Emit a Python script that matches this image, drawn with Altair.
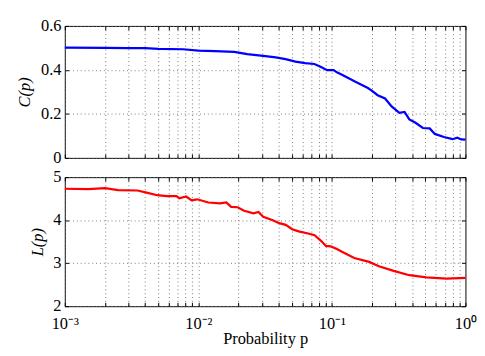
import altair as alt
import pandas as pd

# ---- data ----
p_c = [0.001, 0.002, 0.003, 0.004, 0.005, 0.0077, 0.01, 0.0133, 0.0186, 0.0232,
       0.0306, 0.038, 0.045, 0.0533, 0.063, 0.074, 0.0829, 0.092, 0.103, 0.109,
       0.12, 0.15, 0.186, 0.2, 0.22, 0.25, 0.28, 0.32,
       0.35, 0.38, 0.42, 0.48, 0.54, 0.59, 0.69, 0.80, 0.87, 0.93, 1.0]
c_val = [0.501, 0.500, 0.499, 0.499, 0.496, 0.494, 0.488, 0.486, 0.482, 0.472,
         0.464, 0.457, 0.449, 0.438, 0.431, 0.427, 0.413, 0.399, 0.399, 0.389,
         0.377, 0.346, 0.318, 0.305, 0.285, 0.270, 0.234, 0.205,
         0.209, 0.175, 0.161, 0.136, 0.134, 0.109, 0.095, 0.085, 0.092, 0.084, 0.083]

p_l = [0.001, 0.0015, 0.002, 0.0025, 0.0035, 0.00417, 0.00492, 0.0058, 0.00685, 0.0072,
       0.0081, 0.0089, 0.0098, 0.0119, 0.0145, 0.0162, 0.0176, 0.0197, 0.022, 0.0259,
       0.0282, 0.0306, 0.0361, 0.0403, 0.0451, 0.0504, 0.0564, 0.0664, 0.0742, 0.0829,
       0.0902, 0.0981, 0.109, 0.118, 0.147, 0.19, 0.225, 0.29, 0.38, 0.51, 0.72, 1.0]
l_val = [4.73, 4.72, 4.747, 4.70, 4.69, 4.635, 4.58, 4.56, 4.56, 4.51,
         4.55, 4.46, 4.485, 4.41, 4.39, 4.41, 4.31, 4.30, 4.22, 4.16,
         4.19, 4.08, 4.00, 3.93, 3.89, 3.79, 3.74, 3.69, 3.65, 3.52,
         3.40, 3.39, 3.33, 3.27, 3.12, 3.03, 2.93, 2.82, 2.72, 2.67, 2.64, 2.66]

x_ticks = [0.001, 0.002, 0.003, 0.004, 0.005, 0.006, 0.007, 0.008, 0.009,
           0.01, 0.02, 0.03, 0.04, 0.05, 0.06, 0.07, 0.08, 0.09,
           0.1, 0.2, 0.3, 0.4, 0.5, 0.6, 0.7, 0.8, 0.9, 1]
c_ticks = [0, 0.2, 0.4, 0.6]
l_ticks = [2, 3, 4, 5]

df_c = pd.DataFrame({"p": p_c, "v": c_val})
df_l = pd.DataFrame({"p": p_l, "v": l_val})

FONT = "Liberation Serif"
xscale = alt.Scale(type="log", domain=[0.001, 1], nice=False)
label_expr = ("datum.value == 0.001 ? '10⁻³' : datum.value == 0.01 ? '10⁻²' : "
              "datum.value == 0.1 ? '10⁻¹' : datum.value == 1 ? '10⁰' : ''")

common = dict(domain=False, tickColor="black", tickSize=4, offset=-4,
              labelFont=FONT, labelFontSize=17, labelColor="black",
              titleFont=FONT, titleFontSize=17, titleColor="black",
              titleFontWeight="normal")
grid = dict(grid=True, gridColor="#777", gridDash=[1, 3], gridWidth=1)


def panel(df, ticks, dom, color, ytitle, show_x):
    yscale = alt.Scale(domain=dom, nice=False, zero=False)
    if show_x:
        xb = alt.Axis(orient="bottom", values=x_ticks, labelExpr=label_expr,
                      labelFlush=False, labelPadding=10, title="Probability  p",
                      titlePadding=0, **common, **grid)
    else:
        xb = alt.Axis(orient="bottom", values=x_ticks, labels=False, title=None,
                      **common, **grid)
    yl = alt.Axis(orient="left", values=ticks, format="~g", labelPadding=4,
                  title=ytitle, titleFontStyle="italic", titlePadding=7,
                  **common, **grid)
    xt = alt.Axis(orient="top", values=x_ticks, labels=False, title=None,
                  grid=False, **common)
    yr = alt.Axis(orient="right", values=ticks, labels=False, title=None,
                  grid=False, **common)
    a = alt.Chart(df).mark_line(color=color, strokeWidth=2.3).encode(
        x=alt.X("p:Q", scale=xscale, axis=xb),
        y=alt.Y("v:Q", scale=yscale, axis=yl),
    )
    b = alt.Chart(df).mark_line(opacity=0).encode(
        x=alt.X("p:Q", scale=xscale, axis=xt),
        y=alt.Y("v:Q", scale=yscale, axis=yr),
    )
    return alt.layer(a, b).resolve_axis(x="independent", y="independent")


top = panel(df_c, c_ticks, [0, 0.6], "#0000ff", "C(p)", False).properties(width=416, height=137)
bot = panel(df_l, l_ticks, [2, 5], "#ff0000", "L(p)", True).properties(width=416, height=134)

chart = alt.vconcat(top, bot, spacing=20, bounds="flush").properties(
    padding={"left": 8, "top": 2, "right": 0, "bottom": 0},
    background="white",
).configure_view(stroke="black", strokeWidth=1)

chart.save("out.html", embed_options={"renderer": "svg", "actions": False})
